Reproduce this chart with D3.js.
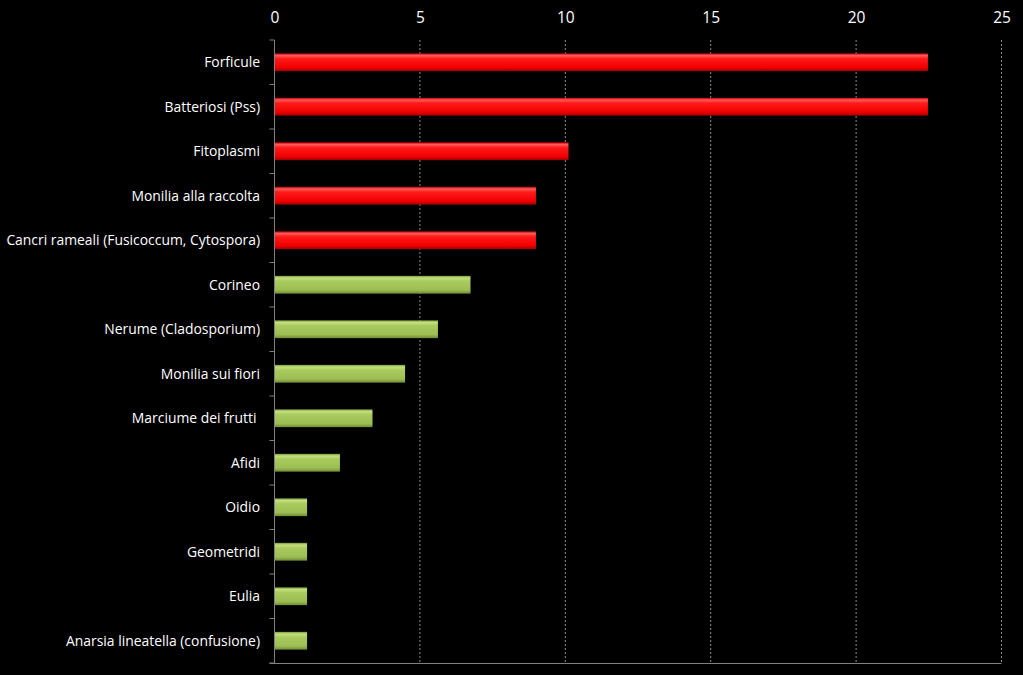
<!DOCTYPE html>
<html><head><meta charset="utf-8">
<script src="https://cdn.jsdelivr.net/npm/d3@7"></script>
<style>html,body{margin:0;padding:0;background:#000;}svg{display:block;}</style>
</head><body><svg id="c" width="1023" height="675"></svg>
<script>
const categories = ["Forficule","Batteriosi (Pss)","Fitoplasmi","Monilia alla raccolta","Cancri rameali (Fusicoccum, Cytospora)","Corineo","Nerume (Cladosporium)","Monilia sui fiori","Marciume dei frutti ","Afidi","Oidio","Geometridi","Eulia","Anarsia lineatella (confusione)"];
const values = [22.47,22.47,10.11,8.99,8.99,6.74,5.62,4.49,3.37,2.25,1.12,1.12,1.12,1.12];
const groups = ["red","red","red","red","red","green","green","green","green","green","green","green","green","green"];
const xTicks = [0,5,10,15,20,25];

const svg = d3.select("#c");
const m = {left:274.5, right:1001.5, top:40, bottom:663};
const x = d3.scaleLinear().domain([0,25]).range([m.left,m.right]);
const y = d3.scaleBand().domain(categories).range([m.top,m.bottom]).paddingInner(0.6).paddingOuter(0.3);

const defs = svg.append("defs");
const gr = defs.append("linearGradient").attr("id","gRed").attr("x1",0).attr("y1",0).attr("x2",0).attr("y2",1);
[[0,"#c00000"],[0.12,"#ff5a5a"],[0.3,"#ff1a1a"],[0.8,"#f00000"],[1,"#a00000"]].forEach(s=>gr.append("stop").attr("offset",s[0]).attr("stop-color",s[1]));
const gg = defs.append("linearGradient").attr("id","gGreen").attr("x1",0).attr("y1",0).attr("x2",0).attr("y2",1);
[[0,"#7a9a3a"],[0.12,"#c4e07e"],[0.3,"#a9cb5e"],[0.8,"#9bbd52"],[1,"#6f8b34"]].forEach(s=>gg.append("stop").attr("offset",s[0]).attr("stop-color",s[1]));

// gridlines
svg.append("g").selectAll("line").data(xTicks.filter(d=>d>0)).join("line")
  .attr("x1",d=>x(d)).attr("x2",d=>x(d)).attr("y1",m.top).attr("y2",m.bottom)
  .attr("stroke","#8c8c8c").attr("stroke-width",1).attr("stroke-dasharray","2,2");

// top axis labels
const xa = svg.append("g").attr("transform",`translate(0,${m.top})`)
  .call(d3.axisTop(x).tickValues(xTicks).tickSize(0).tickPadding(17));
xa.select(".domain").remove();
xa.selectAll("text").attr("fill","#fff").attr("font-family","'Open Sans', sans-serif").attr("font-size","15.5px");

// bottom line
svg.append("line").attr("x1",m.left-5).attr("x2",m.right).attr("y1",m.bottom+0.5).attr("y2",m.bottom+0.5).attr("stroke","#808080");

// bars
svg.append("g").selectAll("rect").data(values).join("rect")
  .attr("x",x(0)).attr("y",(d,i)=>y(categories[i]))
  .attr("width",d=>x(d)-x(0)).attr("height",y.bandwidth())
  .attr("fill",(d,i)=>groups[i]==="red"?"url(#gRed)":"url(#gGreen)");

// y axis
const step = (m.bottom-m.top)/categories.length;
const bounds = d3.range(categories.length+1).map(i=>m.top+i*step);
svg.append("line").attr("x1",m.left).attr("x2",m.left).attr("y1",m.top).attr("y2",m.bottom).attr("stroke","#808080");
svg.append("g").selectAll("line").data(bounds).join("line")
  .attr("x1",m.left-5).attr("x2",m.left).attr("y1",d=>d).attr("y2",d=>d).attr("stroke","#808080");
svg.append("g").selectAll("text").data(categories).join("text")
  .attr("x",260).attr("y",d=>y(d)+y.bandwidth()/2).attr("dy","0.35em")
  .attr("text-anchor","end").attr("fill","#fff")
  .attr("font-family","'Open Sans', sans-serif").attr("font-size","13.9px")
  .attr("xml:space","preserve").style("white-space","pre")
  .text(d=>d);
</script></body></html>
